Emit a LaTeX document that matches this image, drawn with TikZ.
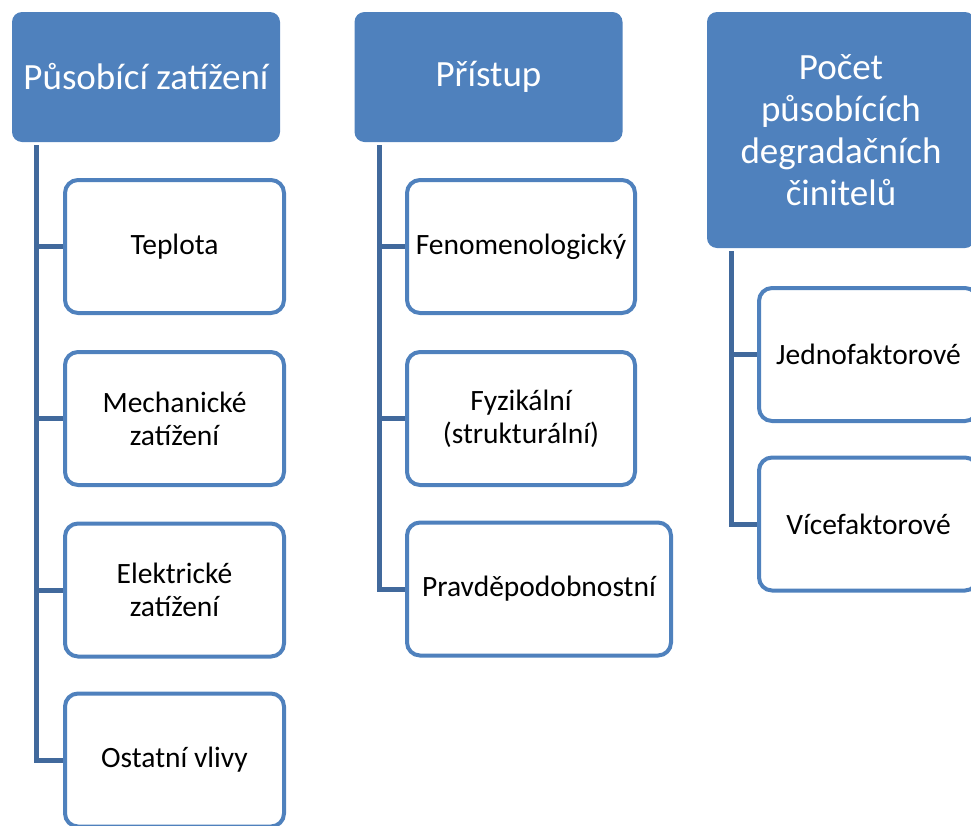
\documentclass[tikz,border=0pt]{standalone}
\usepackage{fontspec}
\setmainfont{Carlito}
\usetikzlibrary{positioning}
\definecolor{accent}{HTML}{4F81BD}
\definecolor{linkblue}{HTML}{41699C}
\tikzset{
  head/.style={fill=accent, rounded corners=10pt, text=white, align=center,
    font=\fontsize{37}{42}\selectfont, minimum width=268pt, minimum height=130pt, inner sep=0pt},
  leaf/.style={draw=accent, line width=4pt, fill=white, rounded corners=13pt, align=center,
    font=\fontsize{29.5}{33}\selectfont, minimum width=219pt, minimum height=133pt, inner sep=0pt},
  link/.style={draw=linkblue, line width=5pt}
}
\begin{document}
\begin{tikzpicture}[x=1pt,y=-1pt]
    \useasboundingbox (0,0) rectangle (971,825);
    % headers
    \node[head] (load) at (146,77) {Působící zatížení};
    \node[head] (appr) at (488.5,77) {Přístup};
    \node[head, minimum height=236pt] (count) at (841,130) {Počet\\působících\\degradačních\\činitelů};
    % first column
    \node[leaf] (temp) at (174.5,246.5) {Teplota};
    \node[leaf] (mech) at (174.5,418.5) {Mechanické\\zatížení};
    \node[leaf] (elec) at (174.5,590) {Elektrické\\zatížení};
    \node[leaf] (other) at (174.5,760) {Ostatní vlivy};
    % second column
    \node[leaf, minimum width=228pt] (feno) at (521,246.5) {Fenomenologický};
    \node[leaf, minimum width=228pt] (phys) at (521,418.5) {Fyzikální\\(strukturální)};
    \node[leaf, minimum width=264pt] (prob) at (539,589) {Pravděpodobnostní};
    % third column
    \node[leaf] (single) at (868.5,354.5) {Jednofaktorové};
    \node[leaf] (multi) at (868.5,524) {Vícefaktorové};
    % connectors
    \foreach \h/\c in {load/temp, load/mech, load/elec, load/other,
                       appr/feno, appr/phys, appr/prob,
                       count/single, count/multi}
        \draw[link] ([xshift=25pt, yshift=-3pt]\h.south west) |- (\c.west);
\end{tikzpicture}
\end{document}
